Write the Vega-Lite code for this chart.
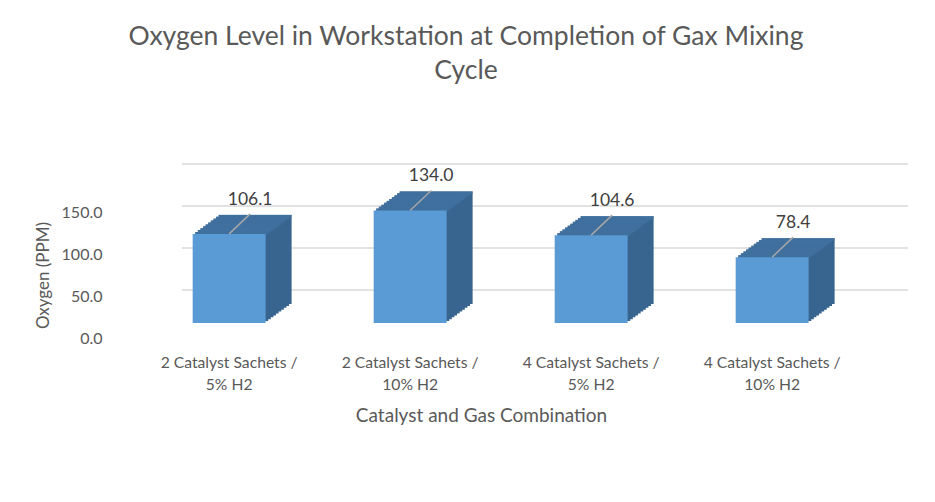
{
  "$schema": "https://vega.github.io/schema/vega-lite/v6.json",
  "autosize": "none",
  "width": 726,
  "height": 168,
  "padding": {"left": 182, "top": 155, "right": 27, "bottom": 179},
  "background": "white",
  "config": {
    "font": "Lato",
    "view": {"stroke": null}
  },
  "title": {
    "text": ["Oxygen Level in Workstation at Completion of Gax Mixing", "Cycle"],
    "fontSize": 26.5,
    "fontWeight": "normal",
    "color": "#595959",
    "lineHeight": 34,
    "frame": "group",
    "anchor": "middle",
    "dx": -79,
    "dy": -67
  },
  "datasets": {
    "oxygen": [
      {"combo": "2 Catalyst Sachets /|5% H2", "ppm": 106.1},
      {"combo": "2 Catalyst Sachets /|10% H2", "ppm": 134.0},
      {"combo": "4 Catalyst Sachets /|5% H2", "ppm": 104.6},
      {"combo": "4 Catalyst Sachets /|10% H2", "ppm": 78.4}
    ],
    "grid": [{"v": 0}, {"v": 50}, {"v": 100}, {"v": 150}]
  },
  "data": {"name": "oxygen"},
  "encoding": {
    "x": {
      "field": "combo",
      "type": "nominal",
      "sort": null,
      "scale": {"paddingInner": 0.597, "paddingOuter": 0.304, "align": 0.097},
      "axis": {
        "title": "Catalyst and Gas Combination",
        "titleFontSize": 19,
        "titleFontWeight": "normal",
        "titleColor": "#595959",
        "titleX": 299,
        "titleY": 92,
        "titleBaseline": "middle",
        "labelExpr": "split(datum.value, '|')",
        "labelAngle": 0,
        "labelFontSize": 15.7,
        "labelColor": "#595959",
        "labelBaseline": "top",
        "labelLineHeight": 22.5,
        "labelPadding": 32,
        "labelDx": -19,
        "domain": false,
        "ticks": false
      }
    },
    "y": {
      "field": "ppm",
      "type": "quantitative",
      "scale": {"domain": [0, 200], "nice": false},
      "axis": {
        "title": "Oxygen (PPM)",
        "titleFontSize": 17,
        "titleFontWeight": "normal",
        "titleColor": "#595959",
        "titleX": -139,
        "titleY": 120,
        "titleAngle": -90,
        "titleBaseline": "middle",
        "titleAlign": "center",
        "values": [0, 50, 100, 150],
        "format": ".1f",
        "labelFontSize": 16,
        "labelColor": "#595959",
        "labelOffset": 15,
        "labelPadding": 80,
        "grid": false,
        "domain": false,
        "ticks": false
      }
    }
  },
  "layer": [
    {
      "data": {"name": "grid"},
      "mark": {"type": "rule", "color": "#d9d9d9", "strokeWidth": 1.3, "yOffset": -33},
      "encoding": {"x": null, "y": {"field": "v", "type": "quantitative"}}
    },
    {"mark": {"type": "bar", "color": "#386590", "xOffset": 26, "yOffset": -19}},
    {"mark": {"type": "bar", "color": "#386590", "xOffset": 23.4, "yOffset": -17.1}},
    {"mark": {"type": "bar", "color": "#386590", "xOffset": 20.8, "yOffset": -15.2}},
    {"mark": {"type": "bar", "color": "#386590", "xOffset": 18.2, "yOffset": -13.3}},
    {"mark": {"type": "bar", "color": "#386590", "xOffset": 15.6, "yOffset": -11.4}},
    {"mark": {"type": "bar", "color": "#386590", "xOffset": 13, "yOffset": -9.5}},
    {"mark": {"type": "bar", "color": "#386590", "xOffset": 10.4, "yOffset": -7.6}},
    {"mark": {"type": "bar", "color": "#386590", "xOffset": 7.8, "yOffset": -5.7}},
    {"mark": {"type": "bar", "color": "#386590", "xOffset": 5.2, "yOffset": -3.8}},
    {"mark": {"type": "bar", "color": "#386590", "xOffset": 2.6, "yOffset": -1.9}},
    {"mark": {"type": "tick", "color": "#4373a3", "size": 73, "thickness": 2.6, "xOffset": 26, "yOffset": -17.8}},
    {"mark": {"type": "tick", "color": "#4373a3", "size": 73, "thickness": 2.6, "xOffset": 23.4, "yOffset": -15.9}},
    {"mark": {"type": "tick", "color": "#4373a3", "size": 73, "thickness": 2.6, "xOffset": 20.8, "yOffset": -14}},
    {"mark": {"type": "tick", "color": "#4373a3", "size": 73, "thickness": 2.6, "xOffset": 18.2, "yOffset": -12.1}},
    {"mark": {"type": "tick", "color": "#4373a3", "size": 73, "thickness": 2.6, "xOffset": 15.6, "yOffset": -10.2}},
    {"mark": {"type": "tick", "color": "#4373a3", "size": 73, "thickness": 2.6, "xOffset": 13, "yOffset": -8.3}},
    {"mark": {"type": "tick", "color": "#4373a3", "size": 73, "thickness": 2.6, "xOffset": 10.4, "yOffset": -6.4}},
    {"mark": {"type": "tick", "color": "#4373a3", "size": 73, "thickness": 2.6, "xOffset": 7.8, "yOffset": -4.5}},
    {"mark": {"type": "tick", "color": "#4373a3", "size": 73, "thickness": 2.6, "xOffset": 5.2, "yOffset": -2.6}},
    {"mark": {"type": "tick", "color": "#4373a3", "size": 73, "thickness": 2.6, "xOffset": 2.6, "yOffset": -0.7}},
    {"mark": {"type": "bar", "color": "#5b9bd5"}},
    {
      "mark": {"type": "rule", "color": "#a6a6a6", "strokeWidth": 1.5, "x2Offset": 21, "y2Offset": -20},
      "encoding": {
        "x2": {"field": "combo"},
        "y2": {"field": "ppm"}
      }
    },
    {
      "mark": {"type": "text", "fontSize": 17.5, "color": "#404040", "dx": 21, "dy": -34, "baseline": "middle"},
      "encoding": {"text": {"field": "ppm", "type": "quantitative", "format": ".1f"}}
    }
  ]
}
